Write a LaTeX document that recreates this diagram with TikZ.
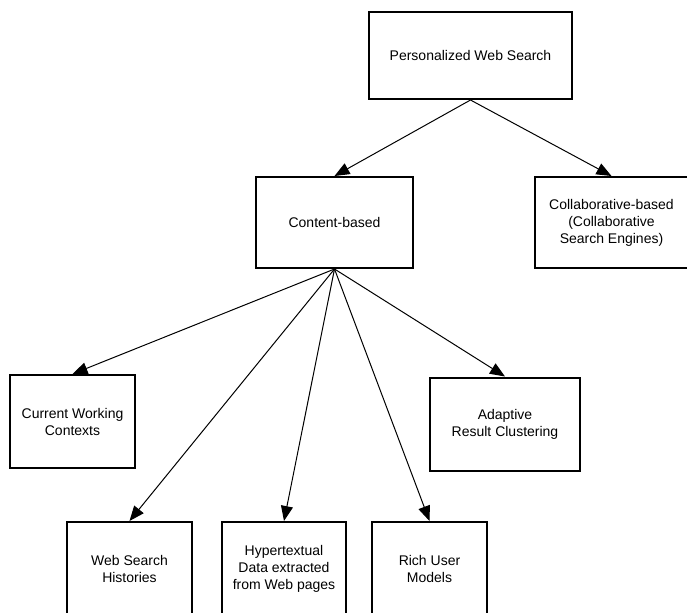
\documentclass[tikz,border=0pt]{standalone}
\usepackage{fontspec}
\setmainfont{Liberation Sans}
\usetikzlibrary{arrows.meta}

\begin{document}
\begin{tikzpicture}[x=0.75pt, y=-0.75pt,
    nodes = {font=\fontsize{10.5}{12.75}\selectfont},
    box/.style = {draw, line width=1.5pt, align=center, inner sep=0pt},
    link/.style = {-{Triangle[length=11.25pt,width=9pt]}, line width=0.75pt}]
  \useasboundingbox (0,0) rectangle (687,612);
  % Top level
  \node[box, minimum width=152.25pt, minimum height=65.25pt] (pws)
    at (470.5,55.5) {Personalized Web Search};
  \node[box, minimum width=117.75pt, minimum height=68.25pt] (content)
    at (334.5,222.5) {Content-based};
  \node[box, minimum width=114.75pt, minimum height=68.25pt] (collab)
    at (611.5,222.5) {Collaborative-based\\(Collaborative\\Search Engines)};
  \draw[link] (pws.south) -- (content.north);
  \draw[link] (pws.south) -- (collab.north);
  % Sources of the content-based approach
  \node[box, minimum width=93.75pt, minimum height=69.75pt] (cw)
    at (72.5,421.5) {Current Working\\Contexts};
  \node[box, minimum width=112.5pt, minimum height=69.75pt] (adapt)
    at (505,424) {Adaptive\\Result Clustering};
  \node[box, minimum width=93.75pt, minimum height=69.75pt] (wsh)
    at (129.5,568.5) {Web Search\\Histories};
  \node[box, minimum width=93pt, minimum height=69.75pt] (hyper)
    at (284,568.5) {Hypertextual\\Data extracted\\from Web pages};
  \node[box, minimum width=86.25pt, minimum height=69.75pt] (rich)
    at (429.5,568.5) {Rich User\\Models};
  \foreach \src in {cw, adapt, wsh, hyper, rich}
    \draw[link] (content.south) -- (\src.north);
\end{tikzpicture}
\end{document}
